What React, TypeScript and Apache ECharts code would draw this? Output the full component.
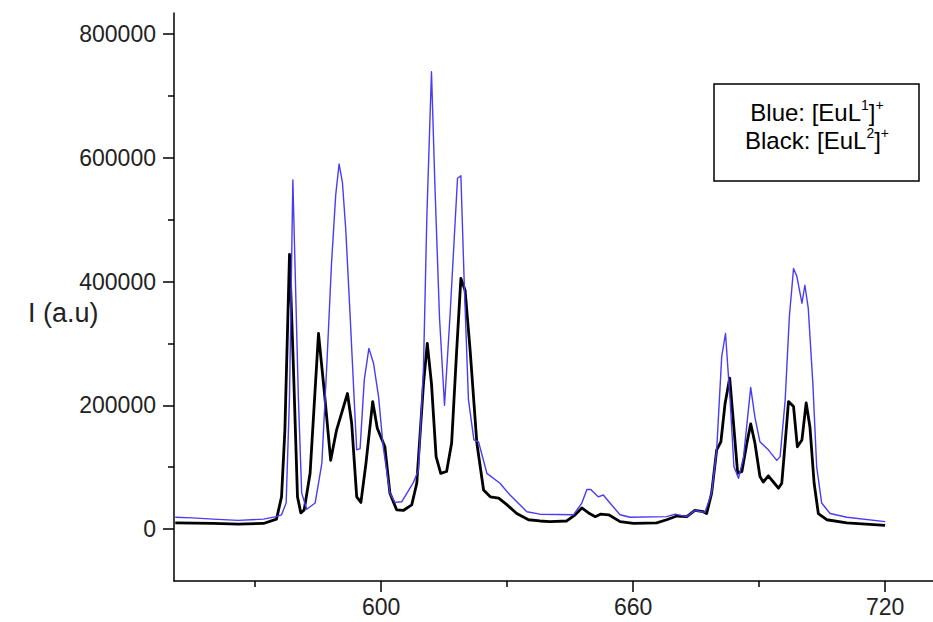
import React, { useEffect, useRef } from "react";
import * as echarts from "echarts";

// Wavelength (nm) / intensity (thousands of a.u.)
const blueX = [551, 555, 560, 566, 572, 575, 576.3, 577.4, 578.2, 579, 579.5, 580.3, 581.1, 582.3, 584.3, 585.9, 587.1, 588.2, 589.2, 590, 590.8, 591.6, 592.6, 593.8, 594.2, 595, 596, 597.1, 598.2, 599.4, 600.5, 602.1, 603.3, 604.9, 607.6, 608.9, 610.1, 610.9, 612, 612.8, 613.9, 615.1, 616.4, 618.2, 619, 619.8, 620.8, 622.1, 623.2, 625.2, 628.3, 630.7, 634.7, 637.8, 645.8, 647.8, 649, 649.9, 651.7, 652.9, 654.5, 656.9, 659.3, 668, 670, 672.8, 674.7, 677.1, 678.7, 679.9, 681.1, 682, 683.1, 684, 685.1, 686.3, 688, 689, 690.2, 692.2, 694.2, 695, 696.2, 697.2, 698.2, 699, 700.2, 700.9, 701.7, 702.8, 703.7, 704.9, 706.9, 710.9, 720];
const blueY = [19, 18, 16, 14, 16, 20, 23, 42, 214, 564, 429, 214, 58, 32, 42, 106, 268, 429, 540, 590, 560, 483, 349, 181, 128, 130, 241, 292, 268, 214, 133, 58, 43, 44, 74, 95, 262, 505, 739, 559, 343, 200, 343, 567, 571, 397, 209, 144, 141, 90, 74, 55, 28, 24, 23, 42, 64, 64, 52, 55, 42, 23, 19, 20, 24, 20, 30, 27, 58, 128, 279, 316, 208, 101, 82, 117, 229, 181, 141, 128, 111, 117, 208, 343, 421, 408, 365, 394, 357, 235, 101, 42, 25, 19, 12];

const blackX = [551, 560, 566, 572, 575.1, 576.3, 577.1, 578.2, 579.1, 580.1, 580.9, 581.7, 583.1, 585.1, 586.6, 588, 589.4, 592, 593, 594.2, 595.2, 596.4, 598, 599.1, 600.9, 602.1, 603.7, 605.3, 607.3, 608.5, 610.1, 611, 612, 613.1, 614.2, 615.6, 616.8, 618, 619, 620, 621.2, 622.8, 624.4, 626, 628, 630, 632.3, 635.1, 637.8, 640.2, 644.2, 646.2, 647.8, 649.4, 651, 652.2, 654.2, 656.9, 660.1, 665.6, 668, 670.4, 672.8, 674.7, 676.7, 677.5, 678.7, 679.9, 680.9, 681.9, 683, 683.9, 684.9, 685.9, 687.1, 688, 689, 690.2, 691, 692.2, 693.4, 694.6, 695.4, 696.2, 697, 698.2, 699.1, 700.2, 701.2, 702.1, 703.1, 704.1, 706.1, 710.9, 720];
const blackY = [10, 9, 8, 9, 16, 52, 160, 444, 268, 52, 26, 31, 90, 316, 214, 111, 160, 219, 171, 52, 43, 106, 206, 163, 133, 58, 31, 30, 39, 74, 235, 300, 235, 117, 90, 93, 139, 289, 405, 386, 289, 139, 63, 52, 50, 39, 25, 15, 13, 12, 13, 23, 34, 26, 20, 24, 23, 12, 9, 10, 15, 21, 20, 30, 28, 25, 58, 128, 141, 203, 244, 171, 90, 93, 139, 170, 139, 85, 76, 86, 76, 66, 74, 139, 206, 198, 133, 144, 204, 165, 74, 25, 15, 10, 6];

const xMajorTicks = [600, 660, 720];
const xMinorTicks = [570, 630, 690];
const yMajorTicks = [0, 200000, 400000, 600000, 800000];
const yMinorTicks = [100000, 300000, 500000, 700000];

const yAxisTitle = "I (a.u)";

const FONT = "'Liberation Sans', Arial, Helvetica, sans-serif";

export default function App() {
  const ref = useRef<HTMLDivElement>(null);

  useEffect(() => {
    if (!ref.current) return;
    const chart = echarts.init(ref.current, undefined, { renderer: "svg" });

    const blueData = blueX.map((x, i) => [x, blueY[i] * 1000]);
    const blackData = blackX.map((x, i) => [x, blackY[i] * 1000]);

    const xMin = 550.7;
    const xMax = 731.4;
    const yMin = -84000;
    const yMax = 834000;

    const axisLineStyle = { color: "#000", width: 1.5 };
    const plain = (v: number) => String(Math.round(v));

    const legendRich = {
      n: { fontSize: 24, fontFamily: FONT, fill: "#000", lineHeight: 26, verticalAlign: "bottom" },
      s: { fontSize: 14, fontFamily: FONT, fill: "#000", lineHeight: 26, verticalAlign: "top" },
    };

    chart.setOption({
      animation: false,
      textStyle: { fontFamily: FONT },
      grid: { left: 174, right: 0, top: 13, bottom: 41, containLabel: false },
      xAxis: [
        {
          type: "value",
          min: xMin,
          max: xMax,
          axisLine: { show: true, onZero: false, lineStyle: axisLineStyle },
          axisTick: { show: true, length: 11, customValues: xMajorTicks, lineStyle: axisLineStyle },
          axisLabel: { show: true, customValues: xMajorTicks, fontSize: 23, color: "#222", margin: 14, fontFamily: FONT, formatter: plain },
          splitLine: { show: false },
        },
        {
          type: "value",
          min: xMin,
          max: xMax,
          position: "bottom",
          axisLine: { show: false, onZero: false },
          axisTick: { show: true, length: 6, customValues: xMinorTicks, lineStyle: axisLineStyle },
          axisLabel: { show: false },
          splitLine: { show: false },
        },
      ],
      yAxis: [
        {
          type: "value",
          min: yMin,
          max: yMax,
          axisLine: { show: true, onZero: false, lineStyle: axisLineStyle },
          axisTick: { show: true, length: 11, customValues: yMajorTicks, lineStyle: axisLineStyle },
          axisLabel: { show: true, customValues: yMajorTicks, fontSize: 23, color: "#222", margin: 18, fontFamily: FONT, formatter: plain },
          splitLine: { show: false },
        },
        {
          type: "value",
          min: yMin,
          max: yMax,
          position: "left",
          axisLine: { show: false, onZero: false },
          axisTick: { show: true, length: 6, customValues: yMinorTicks, lineStyle: axisLineStyle },
          axisLabel: { show: false },
          splitLine: { show: false },
        },
      ],
      series: [
        {
          name: "Black",
          type: "line",
          data: blackData,
          showSymbol: false,
          symbol: "none",
          lineStyle: { color: "#000", width: 2.8, join: "round" },
          z: 2,
        },
        {
          name: "Blue",
          type: "line",
          data: blueData,
          showSymbol: false,
          symbol: "none",
          lineStyle: { color: "#4a3cf2", width: 1.4, join: "round" },
          z: 3,
        },
      ],
      graphic: [
        {
          type: "text",
          x: 28,
          y: 313,
          style: { text: yAxisTitle, fontSize: 27, fontFamily: FONT, fill: "#222", verticalAlign: "middle", align: "left" },
        },
        {
          type: "rect",
          shape: { x: 714, y: 84, width: 205, height: 97 },
          style: { fill: "#fff", stroke: "#000", lineWidth: 1.5 },
          z: 10,
        },
        {
          type: "text",
          x: 817,
          y: 111,
          z: 11,
          style: {
            text: "{n|Blue: [EuL}{s|1}{n|]}{s|+}",
            align: "center",
            verticalAlign: "middle",
            fontFamily: FONT,
            rich: legendRich,
          },
        },
        {
          type: "text",
          x: 817,
          y: 139,
          z: 11,
          style: {
            text: "{n|Black: [EuL}{s|2}{n|]}{s|+}",
            align: "center",
            verticalAlign: "middle",
            fontFamily: FONT,
            rich: legendRich,
          },
        },
      ],
    });

    return () => {
      chart.dispose();
    };
  }, []);

  return (
    <div
      ref={ref}
      style={{ position: "fixed", left: 0, top: 0, width: 933, height: 622, background: "#fff" }}
    />
  );
}
